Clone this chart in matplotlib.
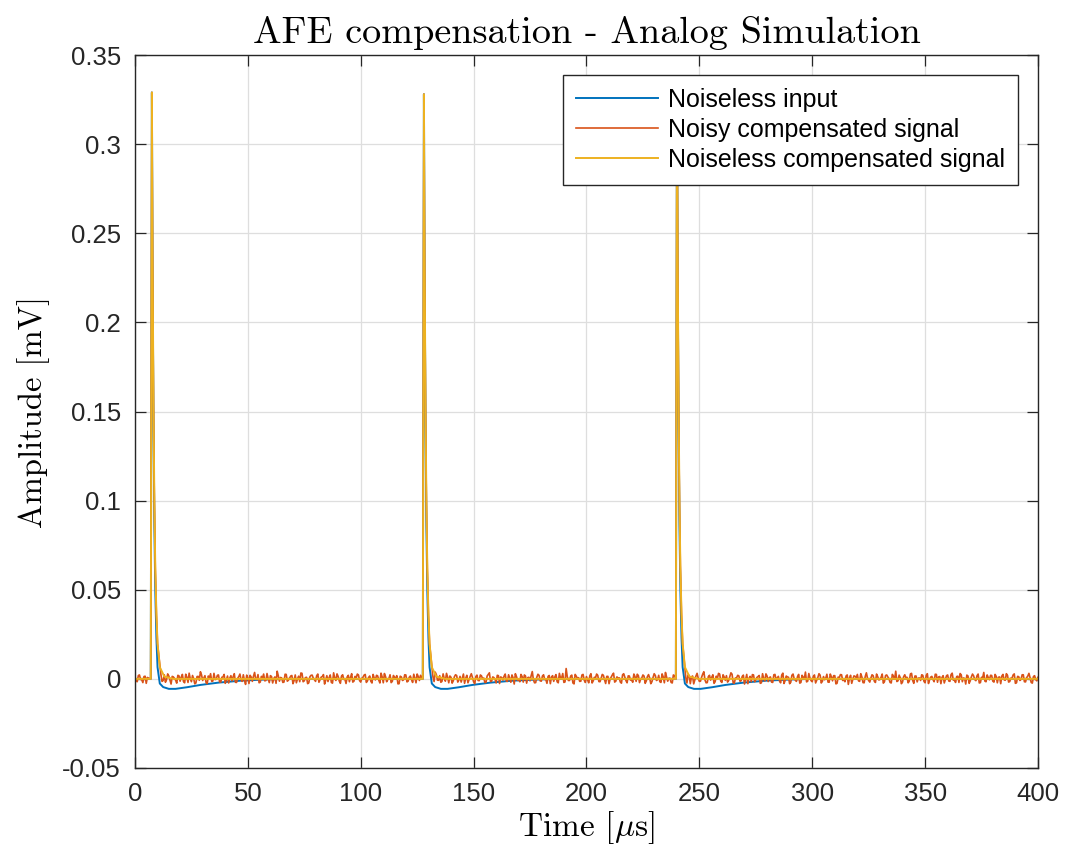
import numpy as np
import matplotlib
matplotlib.use("Agg")
import matplotlib.pyplot as plt
from matplotlib.ticker import FixedLocator, FixedFormatter

# ---- data -------------------------------------------------------------
# pulse onsets [us] and peak amplitudes [mV]
pulse_start = [7.0, 127.5, 239.6]
pulse_amp = [0.329, 0.328, 0.330]

# pulse shape, offsets from onset [us] and fraction of peak amplitude
comp_offsets = [0.0, 0.5, 0.8, 1.2, 1.6, 2.0, 2.5, 3.0, 4.0, 6.0, 10.0]
comp_shape = [0.0, 1.0, 0.72, 0.47, 0.30, 0.19, 0.11, 0.06, 0.02, 0.004, 0.0]

# uncompensated input: same peak followed by a slow undershoot [mV]
input_offsets = [0.0, 0.5, 0.8, 1.2, 1.6, 2.0, 2.5, 3.0, 4.0, 5.5, 8.0,
                 11.0, 16.0, 22.0, 30.0, 40.0, 50.0, 60.0]
input_peak_shape = [0.0, 1.0, 0.70, 0.44, 0.26, 0.15, 0.07, 0.02, 0.0, 0.0, 0.0,
                    0.0, 0.0, 0.0, 0.0, 0.0, 0.0, 0.0]
input_undershoot = [0.0, 0.0, 0.0, 0.0, 0.0, 0.0, 0.0, 0.0, -0.0026, -0.0046, -0.0056,
                    -0.0056, -0.0047, -0.0034, -0.0021, -0.0010, -0.0004, 0.0]

# noise on the compensated output, units of 1e-4 mV
# samples at whole microseconds (0 .. 400)
noise_1e4 = [
    7, -16, 22, -5, 13, -25, 4, 18, -11, 27, -20, 5, -14, 23, -4, 16, -29, 11, -7, 20,
    -13, 25, -22, 9, 32, -16, 2, -23, 14, 40, -9, 18, -27, 5, -14, 31, -2, 22, -18, 11,
    -25, 16, 4, -11, 29, -20, 13, -5, 23, -31, 7, 20, -14, 36, -4, -22, 14, 27, -9, 2,
    18, -23, 11, 43, -13, 5, -18, 25, -7, 16, -27, 22, 0, -16, 31, -11, 9, -22, 20, 4,
    -14, 27, -5, 13, -29, 18, 7, -20, 34, -9, 14, -25, 23, -2, 11, -16, 29, -13, 5, 22,
    -18, 9, 25, -11, 16, -23, 4, 20, -7, 32, -22, 13, -4, 23, -14, 7, 18, -27, 11, -5,
    22, -13, 16, -20, 5, 27, -9, 14, -16, 4, 25, -23, 11, 38, -7, 18, -14, 2, 31, -22,
    9, -11, 23, -18, 14, 5, -25, 20, -4, 29, -16, 13, -9, 22, 0, -20, 16, 34, -13, 7,
    -23, 18, 11, -7, 27, -14, 4, 22, -29, 13, -5, 25, -18, 16, 7, -11, 41, -22, 9, 20,
    -13, 23, -4, 14, -27, 18, 11, -16, 31, 5, -20, 58, -9, 16, -23, 25, 2, -14, 22, -7,
    13, -22, 29, -11, 5, 20, -16, 25, -5, 14, -27, 11, 32, -13, 4, -18, 23, 9, -22, 16,
    -7, 27, -14, 18, -2, 22, -25, 13, 5, -16, 29, -9, 20, -20, 11, 36, -13, 4, -23, 18,
    14, -11, 25, -18, 7, 22, -27, 16, -5, 31, -14, 9, 40, -22, 13, -7, 23, -16, 2, 27,
    -20, 11, 18, -9, 34, -23, 5, 20, -13, 14, -29, 25, 4, -16, 22, -5, 13, -25, 29, -11,
    16, 7, -18, 23, -4, 14, -22, 32, -9, 11, -27, 20, 2, -14, 25, -20, 9, 38, -13, 5,
    -16, 22, -7, 29, -23, 13, 4, -18, 27, -11, 18, -25, 7, 23, -5, 16, -31, 20, -2, 14,
    25, -14, 11, -22, 34, -9, 5, 18, -20, 13, -4, 27, -16, 22, 0, -23, 14, 43, -11, 7,
    -18, 23, 9, -13, 31, -25, 16, 4, -9, 20, -22, 29, -5, 14, -16, 25, 11, -27, 18, -2,
    22, -14, 32, -7, 13, -20, 23, 5, -29, 16, -11, 27, -4, 18, -23, 9, 36, -16, 7, 20,
    -13, 25, -22, 11, 16, -5, 29, -18, 4, 22, -25, 14, -9, 23, -16, 7, 31, -20, 13, -4,
    9,
]
# samples at half microseconds (0.5 .. 399.5)
noise_half_1e4 = [
    -12, 19, -3, -21, 15, 8, -26, 12, 21, -17, 6, 24, -9, -19, 28, -6, 14, 3, -24, 17,
    10, -15, 26, -20, 1, 19, -28, 13, -8, 22, 5, -21, 16, 29, -12, -4, 20, -17, 9, 25,
    -6, -23, 18, 12, -19, 3, 27, -14, -8, 21, -26, 10, 15, -3, 24, -18, 6, -11, 30, -21,
    13, 2, -25, 17, 8, -20, 26, -13, 4, 19, -9, -22, 15, 33, -16, 7, -27, 12, 21, -5,
    18, -19, 10, 24, -7, -15, 22, -24, 5, 28, -12, 16, -3, -26, 20, 9, -18, 14, 27, -10,
    3, 21, -20, 8, -14, 25, -6, 17, -23, 11, 30, -16, 2, -21, 19, 6, -28, 15, -9, 23,
    -17, 9, -4, 26, -22, 13, 20, -11, 7, -25, 18, 4, -15, 24, -8, -19, 28, -13, 10, 16,
    -24, 12, 19, -6, -18, 27, 3, -22, 14, 8, -27, 21, -10, 17, 5, -20, 25, -15, 11, -2,
    20, -26, 7, 15, -12, 23, -19, 6, 29, -8, -16, 13, 22, -24, 9, 18, -5, -21, 26, -11,
    16, -3, -25, 19, 10, -14, 24, -22, 4, 30, -17, 12, -9, 21, -28, 15, 7, -13, 25, -20,
    -6, 18, -23, 9, 27, -15, 3, 20, -26, 14, -1, 23, -18, 11, 6, -24, 29, -10, 17, -7,
    -19, 13, 26, -21, 5, 16, -12, 24, -27, 8, 19, -4, -16, 28, -22, 10, 3, -20, 22, 14,
    -9, 25, -17, 7, -23, 19, 11, -28, 16, 4, -13, 27, -6, -21, 20, 9, -25, 15, 31, -14,
    23, -8, -18, 12, 26, -24, 6, 17, -11, 21, -3, -27, 14, 24, -16, 8, 19, -22, 2, 28,
    -15, 11, -20, 25, 5, -12, 22, -26, 16, 9, -19, 27, -7, 13, -24, 20, 1, -17, 30, -10,
    15, -23, 8, 21, -14, -5, 26, -19, 12, 18, -28, 10, 24, -9, -16, 22, 4, -25, 17, 7,
    -11, 29, -21, 14, 3, -18, 23, -13, 27, -6, 9, -24, 19, 11, -20, 25, -2, -15, 21, -27,
    12, 6, -22, 28, -9, 16, -17, 5, 23, -14, 20, -26, 10, -4, 26, -19, 13, 8, -23, 18,
    -12, 24, -7, -20, 15, 30, -16, 2, 21, -25, 11, 17, -10, 27, -21, 6, -13, 22, -5, 19,
    -18, 14, 9, -27, 25, -8, 20, -15, 4, 28, -22, 12, -3, 23, -17, 16, 7, -24, 18, -11,
]

t_end = 400.0
x_ticks = [0, 50, 100, 150, 200, 250, 300, 350, 400]
y_ticks = [-0.05, 0, 0.05, 0.1, 0.15, 0.2, 0.25, 0.3, 0.35]
y_tick_labels = ["-0.05", "0", "0.05", "0.1", "0.15", "0.2", "0.25", "0.3", "0.35"]


# ---- build traces from pulse events -----------------------------------
def pulse_train(offsets, values_per_pulse):
    t = [0.0]
    v = [0.0]
    for t0, vals in zip(pulse_start, values_per_pulse):
        t.extend(t0 + np.asarray(offsets))
        v.extend(vals)
    t.append(t_end)
    v.append(0.0)
    return np.array(t), np.array(v)


input_vals = [a * np.asarray(input_peak_shape) + np.asarray(input_undershoot) for a in pulse_amp]
t_in, v_in = pulse_train(input_offsets, input_vals)

comp_vals = [a * np.asarray(comp_shape) for a in pulse_amp]
t_comp, v_comp = pulse_train(comp_offsets, comp_vals)

# noisy output: noise samples outside the pulses, pulse shape inside
t_grid = np.concatenate([np.arange(len(noise_1e4), dtype=float),
                         np.arange(len(noise_half_1e4), dtype=float) + 0.5])
n_grid = np.concatenate([np.asarray(noise_1e4), np.asarray(noise_half_1e4)]) * 1e-4
keep = np.ones_like(t_grid, dtype=bool)
for t0 in pulse_start:
    keep &= ~((t_grid >= t0 - 0.5) & (t_grid <= t0 + comp_offsets[-3]))
pulse_pts_t = np.concatenate([t0 + np.asarray(comp_offsets[:-3]) for t0 in pulse_start])
pulse_pts_v = np.concatenate([a * np.asarray(comp_shape[:-3]) for a in pulse_amp])
t_noisy = np.concatenate([t_grid[keep], pulse_pts_t])
v_noisy = np.concatenate([n_grid[keep], pulse_pts_v])
order = np.argsort(t_noisy, kind="stable")
t_noisy, v_noisy = t_noisy[order], v_noisy[order]

# ---- figure -----------------------------------------------------------
plt.rcParams["font.family"] = ["Liberation Sans", "DejaVu Sans"]
plt.rcParams["mathtext.fontset"] = "cm"
plt.rcParams["axes.unicode_minus"] = False

fig = plt.figure(figsize=(10.66, 8.52), dpi=100)
ax = fig.add_axes([0.1266, 0.0986, 0.8471, 0.8368])

c_blue = "#0072BD"
c_orange = "#D95319"
c_yellow = "#EDB120"

ax.plot(t_in, v_in, color=c_blue, lw=1.4, label="Noiseless input")
ax.plot(t_noisy, v_noisy, color=c_orange, lw=1.2, label="Noisy compensated signal")
ax.plot(t_comp, v_comp, color=c_yellow, lw=1.4, label="Noiseless compensated signal")

ax.set_xlim(0, 400)
ax.set_ylim(-0.05, 0.35)
ax.xaxis.set_major_locator(FixedLocator(x_ticks))
ax.yaxis.set_major_locator(FixedLocator(y_ticks))
ax.yaxis.set_major_formatter(FixedFormatter(y_tick_labels))

ax.grid(True, color="#dedede", lw=0.9)
ax.set_axisbelow(True)
ax.tick_params(direction="in", length=8, width=0.9, top=True, right=True,
               labelsize=18.5, pad=10, colors="#262626", labelcolor="#262626")
for s in ax.spines.values():
    s.set_linewidth(1.0)
    s.set_color("#262626")

serif = "cmr10"
ax.set_title("AFE compensation - Analog Simulation", fontfamily=serif,
             fontsize=27.5, pad=9, color="black")
ax.set_xlabel(r"Time [$\mu$s]", fontfamily=serif, fontsize=24, labelpad=2)
ax.set_ylabel("Amplitude [mV]", fontfamily=serif, fontsize=23.5, labelpad=9)

leg = ax.legend(loc="upper right", fontsize=18, frameon=True, fancybox=False,
                edgecolor="#262626", framealpha=1.0, handlelength=3.3,
                handletextpad=0.4, borderpad=0.5, labelspacing=0.25,
                borderaxespad=0.8)
leg.get_frame().set_linewidth(1.0)

fig.savefig("out.png", dpi=100)
